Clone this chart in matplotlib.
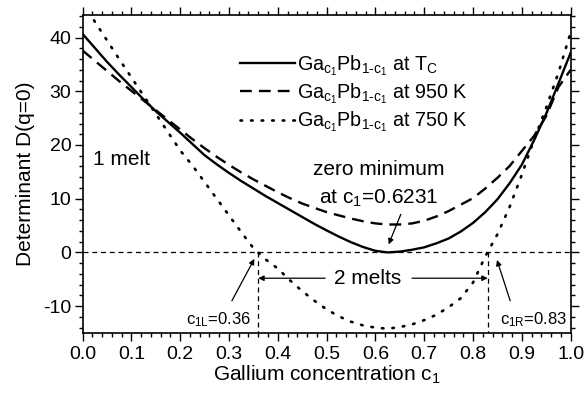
import matplotlib
matplotlib.use("Agg")
import matplotlib.pyplot as plt
from matplotlib.ticker import MultipleLocator, FormatStrFormatter

plt.rcParams['font.family'] = ['Liberation Sans', 'DejaVu Sans']
plt.rcParams['mathtext.fontset'] = 'custom'
plt.rcParams['mathtext.rm'] = 'Liberation Sans'
plt.rcParams['mathtext.it'] = 'Liberation Sans'
plt.rcParams['mathtext.bf'] = 'Liberation Sans:bold'
plt.rcParams['axes.unicode_minus'] = False

# Gallium concentration grid
c1 = [0.000, 0.025, 0.050, 0.075, 0.100, 0.125, 0.150, 0.175, 0.200, 0.225,
      0.250, 0.275, 0.300, 0.325, 0.350, 0.375, 0.400, 0.425, 0.450, 0.475,
      0.500, 0.525, 0.550, 0.575, 0.600, 0.625, 0.650, 0.675, 0.700, 0.725,
      0.750, 0.775, 0.800, 0.825, 0.850, 0.875, 0.900, 0.925, 0.950, 0.975,
      1.000]

# Determinant at T_C
d_tc = [40.7, 38.1, 35.5, 33.1, 30.8, 28.5, 26.3, 24.3, 22.3, 20.2,
        18.1, 16.4, 14.8, 13.3, 11.9, 10.5, 9.2, 7.9, 6.6, 5.3,
        4.1, 2.95, 1.9, 1.0, 0.3, 0.0, 0.15, 0.5, 0.95, 1.7,
        2.6, 3.9, 5.5, 7.5, 9.9, 12.9, 16.35, 20.9, 25.85, 31.5,
        37.2]
# Determinant at 950 K
d_950 = [37.6, 35.7, 33.8, 31.9, 30.1, 28.3, 26.5, 24.7, 22.9, 21.1,
         19.4, 17.8, 16.3, 14.9, 13.6, 12.4, 11.2, 10.1, 9.1, 8.3,
         7.5, 6.9, 6.3, 5.8, 5.4, 5.2, 5.2, 5.4, 5.9, 6.7,
         7.7, 8.9, 10.1, 11.9, 13.9, 16.1, 18.9, 21.7, 25.4, 30.8,
         34.0]
# Determinant at 750 K
d_750 = [46.5, 43.0, 39.5, 36.0, 32.6, 29.2, 25.8, 22.4, 19.0, 16.2,
         13.1, 10.0, 6.9, 3.8, 0.8, -1.3, -3.0, -5.2, -7.2, -9.0,
         -10.6, -11.9, -12.9, -13.6, -14.0, -14.2, -13.9, -13.4, -12.6, -11.6,
         -10.2, -8.5, -5.6, -0.75, 3.4, 8.5, 14.5, 21.0, 27.0, 33.5,
         41.0]

c1L = 0.36
c1R = 0.83
c_min = 0.6231

labels = ['Ga$_{c_1}$Pb$_{1\u2010c_1}$ at T$_C$',
          'Ga$_{c_1}$Pb$_{1\u2010c_1}$ at 950 K',
          'Ga$_{c_1}$Pb$_{1\u2010c_1}$ at 750 K']

FS = 15

fig = plt.figure(figsize=(5.86, 3.97), dpi=100)
ax = fig.add_axes([0.1408, 0.1612, 0.9739 - 0.1408, 0.9622 - 0.1612])

ax.plot(c1, d_tc, color='black', lw=1.7, label=labels[0])
ax.plot(c1, d_950, color='black', lw=1.7, ls=(0, (5, 3)), label=labels[1])
ax.plot(c1, d_750, color='black', lw=1.9, ls=(0, (0.6, 3.4)),
        dash_capstyle='round', label=labels[2])

# zero line and vertical markers
ax.plot([0, 1], [0, 0], color='black', lw=0.9, ls=(0, (4, 3)))
ax.plot([c1L, c1L], [0, -15], color='black', lw=0.9, ls=(0, (4, 3)))
ax.plot([c1R, c1R], [0, -15], color='black', lw=0.9, ls=(0, (4, 3)))

ax.set_xlim(0, 1)
ax.set_ylim(-15, 44.2)
ax.xaxis.set_major_locator(MultipleLocator(0.1))
ax.xaxis.set_minor_locator(MultipleLocator(0.02))
ax.yaxis.set_major_locator(MultipleLocator(10))
ax.yaxis.set_minor_locator(MultipleLocator(2))
ax.tick_params(which='both', direction='out', top=True, right=True,
               labelsize=14, width=1.0)
ax.tick_params(which='major', length=6)
ax.tick_params(which='minor', length=3)
ax.tick_params(axis='x', pad=3)
ax.tick_params(axis='y', pad=2)
ax.xaxis.set_major_formatter(FormatStrFormatter('%.1f'))
for s in ax.spines.values():
    s.set_linewidth(1.2)

ax.set_xlabel(r'Gallium concentration c$_1$', fontsize=FS, labelpad=1)
ax.set_ylabel('Determinant D(q=0)', fontsize=FS, labelpad=6)

leg = ax.legend(loc='upper left', bbox_to_anchor=(0.322, 0.88), frameon=False,
                fontsize=14.2, handlelength=2.8, handletextpad=0.12,
                labelspacing=0.18, borderpad=0, borderaxespad=0)

ax.text(0.022, 17.3, '1 melt', fontsize=FS, va='center', ha='left')
ax.text(0.607, 15.4, 'zero minimum', fontsize=FS, va='center', ha='center')
ax.text(0.607, 10.0, r'at c$_1$=0.6231', fontsize=FS, va='center', ha='center')
ax.text(0.585, -4.8, '2 melts', fontsize=FS, va='center', ha='center')
ax.text(0.278, -12.6, r'c$_{1L}$=0.36', fontsize=12, va='center', ha='center')
ax.text(0.923, -12.6, r'c$_{1R}$=0.83', fontsize=12, va='center', ha='center')

arrow = dict(arrowstyle='-|>', color='black', lw=0.9, mutation_scale=8,
             shrinkA=0, shrinkB=0)
ax.annotate('', xy=(c_min + 0.004, 1.5), xytext=(0.652, 7.1), arrowprops=arrow)
ax.annotate('', xy=(c1L, -4.8), xytext=(0.497, -4.8), arrowprops=arrow)
ax.annotate('', xy=(c1R, -4.8), xytext=(0.675, -4.8), arrowprops=arrow)
ax.annotate('', xy=(0.352, -1.2), xytext=(0.306, -9.0), arrowprops=arrow)
ax.annotate('', xy=(0.849, -1.4), xytext=(0.876, -9.0), arrowprops=arrow)

fig.savefig('out.png', dpi=100)
